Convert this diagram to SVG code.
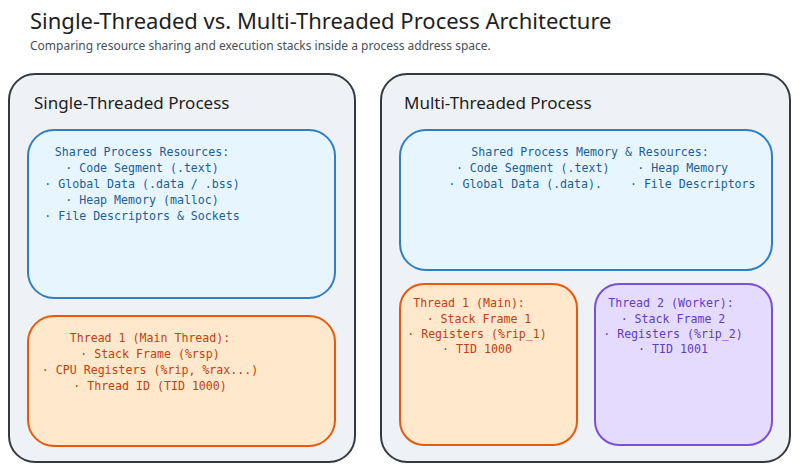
<svg xmlns="http://www.w3.org/2000/svg" width="800" height="474" viewBox="0 0 800 474">
<style>
.t{font-family:"Comic Sans MS","Noto Sans",sans-serif;fill:#1e1e1e}
.m{font-family:"DejaVu Sans Mono","Liberation Mono",monospace;font-size:11.6px;text-anchor:middle}
.outer{fill:#eef2f6;stroke:#343a40;stroke-width:2}
.sh{fill:#e7f5ff;stroke:#2f7fc1;stroke-width:2}
.shT{fill:#1c5f94}
.t1{fill:#ffe8cc;stroke:#e8590c;stroke-width:2}
.t1T{fill:#c2410c}
.t2{fill:#e5dbff;stroke:#7950d8;stroke-width:2}
.t2T{fill:#5f3dc4}
</style>
<rect width="800" height="474" fill="#ffffff"/>
<text class="t" x="30" y="29" font-size="22">Single-Threaded vs. Multi-Threaded Process Architecture</text>
<text class="t" x="30" y="50" font-size="12" style="fill:#495057">Comparing resource sharing and execution stacks inside a process address space.</text>
<g id="single">
<rect class="outer" x="9" y="74" width="346" height="388" rx="26"/>
<text class="t" x="34" y="109" font-size="17">Single-Threaded Process</text>
</g>
<g id="single-shared">
<rect class="sh" x="28" y="130" width="307" height="168" rx="26"/>
<text class="m shT" x="142" y="156">Shared Process Resources:</text>
<text class="m shT" x="142" y="172">· Code Segment (.text)</text>
<text class="m shT" x="142" y="188">· Global Data (.data / .bss)</text>
<text class="m shT" x="142" y="204">· Heap Memory (malloc)</text>
<text class="m shT" x="142" y="220">· File Descriptors &amp; Sockets</text>
</g>
<g id="single-thread">
<rect class="t1" x="28" y="316" width="307" height="130" rx="26"/>
<text class="m t1T" x="150" y="342">Thread 1 (Main Thread):</text>
<text class="m t1T" x="150" y="358">· Stack Frame (%rsp)</text>
<text class="m t1T" x="150" y="374">· CPU Registers (%rip, %rax...)</text>
<text class="m t1T" x="150" y="390">· Thread ID (TID 1000)</text>
</g>
<g id="multi">
<rect class="outer" x="381" y="74" width="409" height="388" rx="26"/>
<text class="t" x="404" y="109" font-size="17">Multi-Threaded Process</text>
</g>
<g id="multi-shared">
<rect class="sh" x="400" y="130" width="372" height="140" rx="26"/>
<text class="m shT" x="590" y="156">Shared Process Memory &amp; Resources:</text>
<text class="m shT" x="592" y="172" xml:space="preserve">· Code Segment (.text)    · Heap Memory</text>
<text class="m shT" x="602" y="188" xml:space="preserve">· Global Data (.data).    · File Descriptors</text>
</g>
<g id="thread1">
<rect class="t1" x="400" y="284" width="177" height="161" rx="24"/>
<text class="m t1T" x="469" y="307">Thread 1 (Main):</text>
<text class="m t1T" x="479" y="323">· Stack Frame 1</text>
<text class="m t1T" x="477" y="338">· Registers (%rip_1)</text>
<text class="m t1T" x="477" y="353">· TID 1000</text>
</g>
<g id="thread2">
<rect class="t2" x="595" y="284" width="177" height="161" rx="24"/>
<text class="m t2T" x="671" y="307">Thread 2 (Worker):</text>
<text class="m t2T" x="673" y="323">· Stack Frame 2</text>
<text class="m t2T" x="673" y="338">· Registers (%rip_2)</text>
<text class="m t2T" x="673" y="353">· TID 1001</text>
</g>
<g id="connectors"></g>
</svg>
